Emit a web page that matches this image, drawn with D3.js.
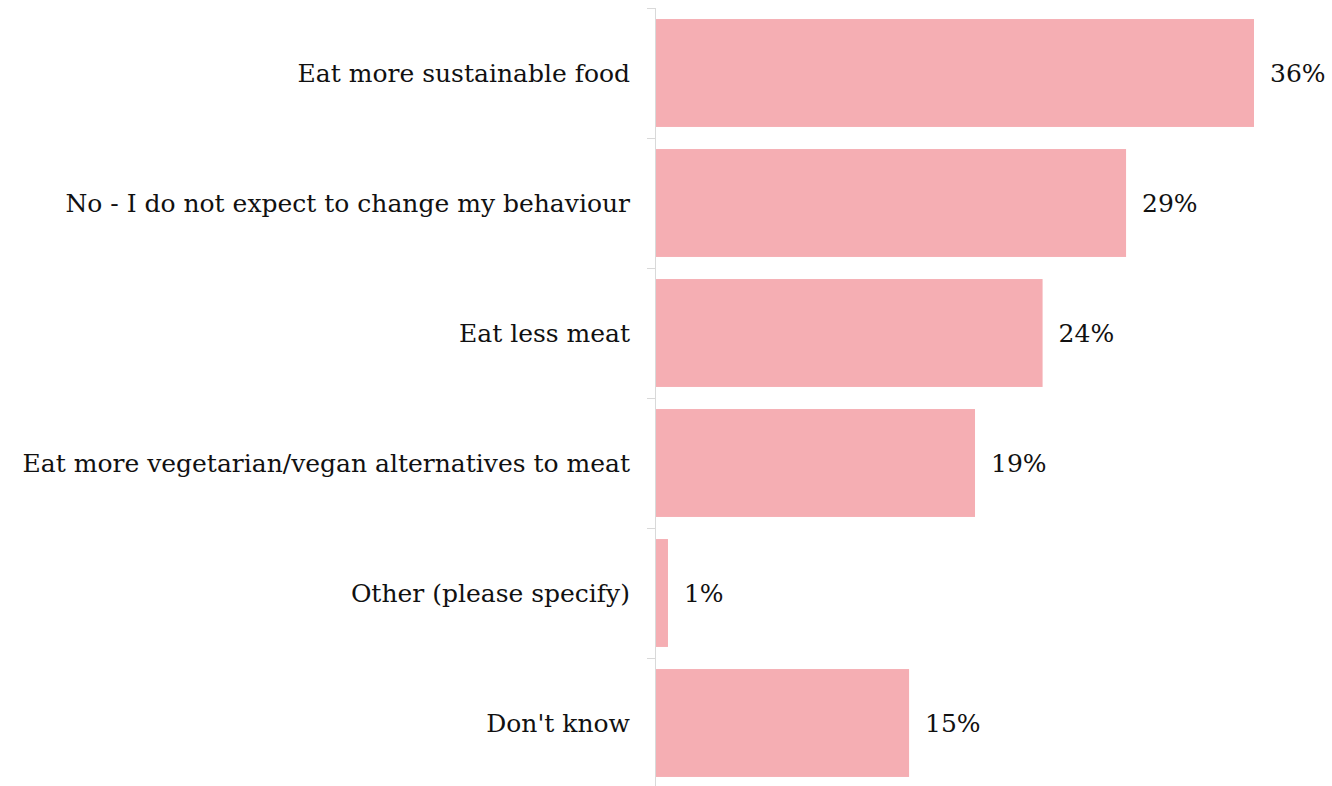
<!DOCTYPE html>
<html>
<head>
<meta charset="utf-8">
<script src="https://cdn.jsdelivr.net/npm/d3@7"></script>
<style>
  html, body { margin: 0; padding: 0; background: #fff; }
  svg { display: block; }
  text { font-family: "DejaVu Serif", Georgia, serif; fill: #111; }
</style>
</head>
<body>
<svg id="chart" width="1332" height="786"></svg>
<script>
const categories = [
  "Eat more sustainable food",
  "No - I do not expect to change my behaviour",
  "Eat less meat",
  "Eat more vegetarian/vegan alternatives to meat",
  "Other (please specify)",
  "Don't know"
];
const values = [36.46, 28.66, 23.57, 19.45, 0.73, 15.43];

const W = 1332, H = 786;
const x0 = 656;
const svg = d3.select("#chart");

const y = d3.scaleBand()
  .domain(categories)
  .range([8, 788])
  .paddingInner(0.17)
  .paddingOuter(0.085);

const x = d3.scaleLinear()
  .domain([0, 36.46])
  .range([x0, 1254]);

// bars
svg.append("g").selectAll("rect")
  .data(categories)
  .join("rect")
  .attr("x", x(0))
  .attr("y", d => y(d))
  .attr("width", (d, i) => x(values[i]) - x(0))
  .attr("height", y.bandwidth())
  .attr("fill", "#f5aeb3");

// axis line and ticks at band boundaries
const ax = svg.append("g");
ax.append("line")
  .attr("x1", x0 - 0.5).attr("x2", x0 - 0.5)
  .attr("y1", 8).attr("y2", H)
  .attr("stroke", "#d9d9d9").attr("stroke-width", 1);
const boundaries = categories.map(c => y(c) - y.step() * y.paddingInner() / 2);
ax.selectAll("line.tick")
  .data(boundaries)
  .join("line")
  .attr("class", "tick")
  .attr("x1", x0 - 9).attr("x2", x0)
  .attr("y1", d => Math.round(d) + 0.5).attr("y2", d => Math.round(d) + 0.5)
  .attr("stroke", "#d9d9d9").attr("stroke-width", 1);

// category labels
svg.append("g").selectAll("text")
  .data(categories)
  .join("text")
  .attr("x", 630)
  .attr("y", d => y(d) + y.bandwidth() / 2)
  .attr("dy", "0.35em")
  .attr("text-anchor", "end")
  .style("font-size", "25px")
  .text(d => d);

// value labels
const fmt = d3.format(".0f");
svg.append("g").selectAll("text")
  .data(categories)
  .join("text")
  .attr("x", (d, i) => x(values[i]) + 16)
  .attr("y", d => y(d) + y.bandwidth() / 2)
  .attr("dy", "0.35em")
  .style("font-size", "25px")
  .text((d, i) => fmt(values[i]) + "%");
</script>
</body>
</html>
